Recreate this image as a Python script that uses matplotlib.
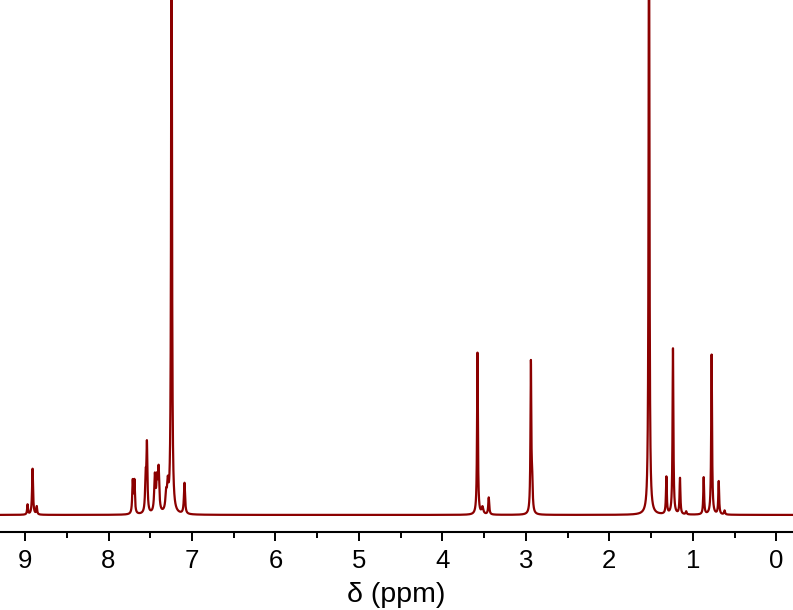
import numpy as np
import matplotlib
matplotlib.use("Agg")
import matplotlib.pyplot as plt
from matplotlib.ticker import MultipleLocator

plt.rcParams['font.family'] = ['Liberation Sans', 'DejaVu Sans']

# Peak list (ppm, height in arbitrary units, half-width ppm)
peak_ppm = [8.97, 8.91, 8.86,
            7.71, 7.69, 7.555, 7.54, 7.445, 7.42, 7.40, 7.31, 7.29, 7.245, 7.09,
            3.58, 3.52, 3.445, 2.94, 2.925,
            1.525, 1.317, 1.238, 1.154, 1.08, 0.87, 0.775, 0.69, 0.62]
peak_height = [10, 46, 8,
               32, 32, 34, 66, 36, 30, 42, 16, 24, 650, 31,
               162, 7, 17, 150, 28,
               650, 37, 166, 36, 3, 37, 160, 33, 4]
peak_width = [0.006, 0.007, 0.006,
              0.007, 0.007, 0.008, 0.007, 0.009, 0.009, 0.009, 0.010, 0.010, 0.006, 0.008,
              0.006, 0.012, 0.007, 0.006, 0.007,
              0.006, 0.006, 0.006, 0.006, 0.007, 0.006, 0.006, 0.006, 0.007]

x_min, x_max = -0.2, 9.3
ppm = np.linspace(x_max, x_min, 40000)
spec = np.zeros_like(ppm)
for c, h, w in zip(peak_ppm, peak_height, peak_width):
    spec += h / (1 + ((ppm - c) / w) ** 2)

fig = plt.figure(figsize=(7.93, 6.10), dpi=100)
ax = fig.add_axes([0.0, 0.128, 1.0, 0.872])
ax.plot(ppm, spec, color='#8B0000', lw=1.6)
ax.set_xlim(x_max, x_min)
ax.set_ylim(-17, 515)

for s in ['left', 'right', 'top']:
    ax.spines[s].set_visible(False)
ax.spines['bottom'].set_linewidth(1.5)
ax.set_yticks([])
ax.xaxis.set_major_locator(MultipleLocator(1))
ax.xaxis.set_minor_locator(MultipleLocator(0.5))
ax.tick_params(axis='x', which='major', direction='out', length=6.5, width=1.4,
               labelsize=18.5, pad=6)
ax.tick_params(axis='x', which='minor', direction='out', length=4, width=1.4)
ax.set_xlabel('δ (ppm)', fontsize=20.5, labelpad=6)

fig.savefig('out.png', dpi=100)
